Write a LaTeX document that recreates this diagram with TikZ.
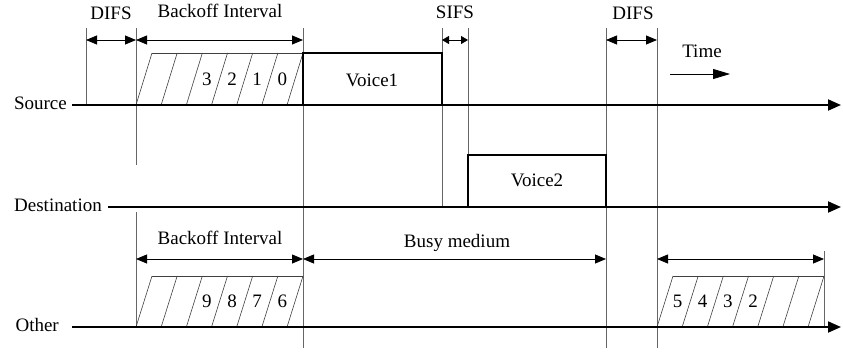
\documentclass[tikz,border=0pt]{standalone}
\usepackage{fontspec}
\setmainfont{Liberation Serif}
\usetikzlibrary{arrows.meta}

\begin{document}
\begin{tikzpicture}[x=1pt,y=-1pt,
  txt/.style={font=\fontsize{19}{22}\selectfont, inner sep=0pt},
  axis/.style={line width=1.8pt, -{Triangle[length=13pt,width=11pt]}},
  frame/.style={line width=1.8pt},
  vline/.style={line width=0.8pt, black!60},
  hatch/.style={line width=0.6pt, black!75},
  dim/.style={line width=0.8pt, {Triangle[length=11pt,width=9pt]}-{Triangle[length=11pt,width=9pt]}},
  dimsmall/.style={line width=0.8pt, {Triangle[length=7pt,width=8pt]}-{Triangle[length=7pt,width=8pt]}},
  timearrow/.style={line width=0.8pt, -{Triangle[length=17pt,width=10pt]}}]
\useasboundingbox (0,0) rectangle (843,351);

% station labels and time axes
\node[txt, anchor=base east] (src) at (67,109) {Source};
\node[txt, anchor=base east] (dst) at (102,211) {Destination};
\node[txt, anchor=base east] (oth) at (59,331) {Other};
\coordinate (srcS) at (72,105);  \coordinate (srcE) at (841,105);
\coordinate (dstS) at (108,207); \coordinate (dstE) at (841,207);
\coordinate (othS) at (72,327);  \coordinate (othE) at (841,327);

% instants on the time axis
\coordinate (a) at (86,28);
\coordinate (b) at (136,28);
\coordinate (c) at (303,28);
\coordinate (d) at (442,28);
\coordinate (e) at (468,28);
\coordinate (f) at (606,28);
\coordinate (g) at (657,28);

% vertical instant markers
\draw[vline] (a) -- (a |- srcS);
\draw[vline] (b) -- (136,165);
\draw[vline] (136,212) -- (b |- othS);
\draw[vline] (c) -- (303,348);
\draw[vline] (d) -- (d |- dstS);
\draw[vline] (e) -- (e |- dstS);
\draw[vline] (f) -- (606,348);
\draw[vline] (g) -- (657,348);
\draw[vline] (824,251) -- (824,327);

% source backoff slots
\draw[hatch] (152,53) -- (303,53);
\foreach \i in {0,...,6} \draw[hatch] (136+25.17*\i,105) -- ++(16,-52);
\foreach \n/\k in {3/2,2/3,1/4,0/5}
  \node[txt] at (136+25.17*\k+20.5,79) {\n};

% other station backoff (frozen)
\draw[hatch] (152,276) -- (303,276);
\foreach \i in {0,...,6} \draw[hatch] (136+25.17*\i,327) -- ++(16,-51);
\foreach \n/\k in {9/2,8/3,7/4,6/5}
  \node[txt] at (136+25.17*\k+20.5,301) {\n};

% other station backoff (resumed)
\draw[hatch] (673,276) -- (824,276);
\foreach \i in {0,...,6} \draw[hatch] (657+25.17*\i,327) -- ++(16,-51);
\foreach \n/\k in {5/0,4/1,3/2,2/3}
  \node[txt] at (657+25.17*\k+20.5,301) {\n};

% frames
\draw[frame] (303,105) -- (303,53) -- (442,53) -- (442,105);
\node[txt] (v1) at (372,80) {Voice1};
\draw[frame] (468,207) -- (468,155) -- (606,155) -- (606,207);
\node[txt] (v2) at (537,180) {Voice2};

% axes
\draw[axis] (srcS) -- (srcE);
\draw[axis] (dstS) -- (dstE);
\draw[axis] (othS) -- (othE);

% interval dimensions
\draw[dim] (86,40) -- (136,40);
\draw[dim] (136,40) -- (303,40);
\draw[dimsmall] (442,40) -- (468,40);
\draw[dim] (606,40) -- (657,40);
\draw[dim] (136,259) -- (303,259);
\draw[dim] (303,259) -- (606,259);
\draw[dim] (657,259) -- (824,259);

\node[txt, anchor=base] (l1) at (111,19) {DIFS};
\node[txt, anchor=base] (l2) at (220,17) {Backoff Interval};
\node[txt, anchor=base] (l3) at (455,18) {SIFS};
\node[txt, anchor=base] (l4) at (633,19) {DIFS};
\node[txt, anchor=base] (l5) at (220,244) {Backoff Interval};
\node[txt, anchor=base] (l6) at (457,247) {Busy medium};

% time direction
\node[txt, anchor=base] (tm) at (702,57) {Time};
\coordinate (t0) at (670,74); \coordinate (t1) at (730,74);
\draw[timearrow] (t0) -- (t1);
\end{tikzpicture}
\end{document}
